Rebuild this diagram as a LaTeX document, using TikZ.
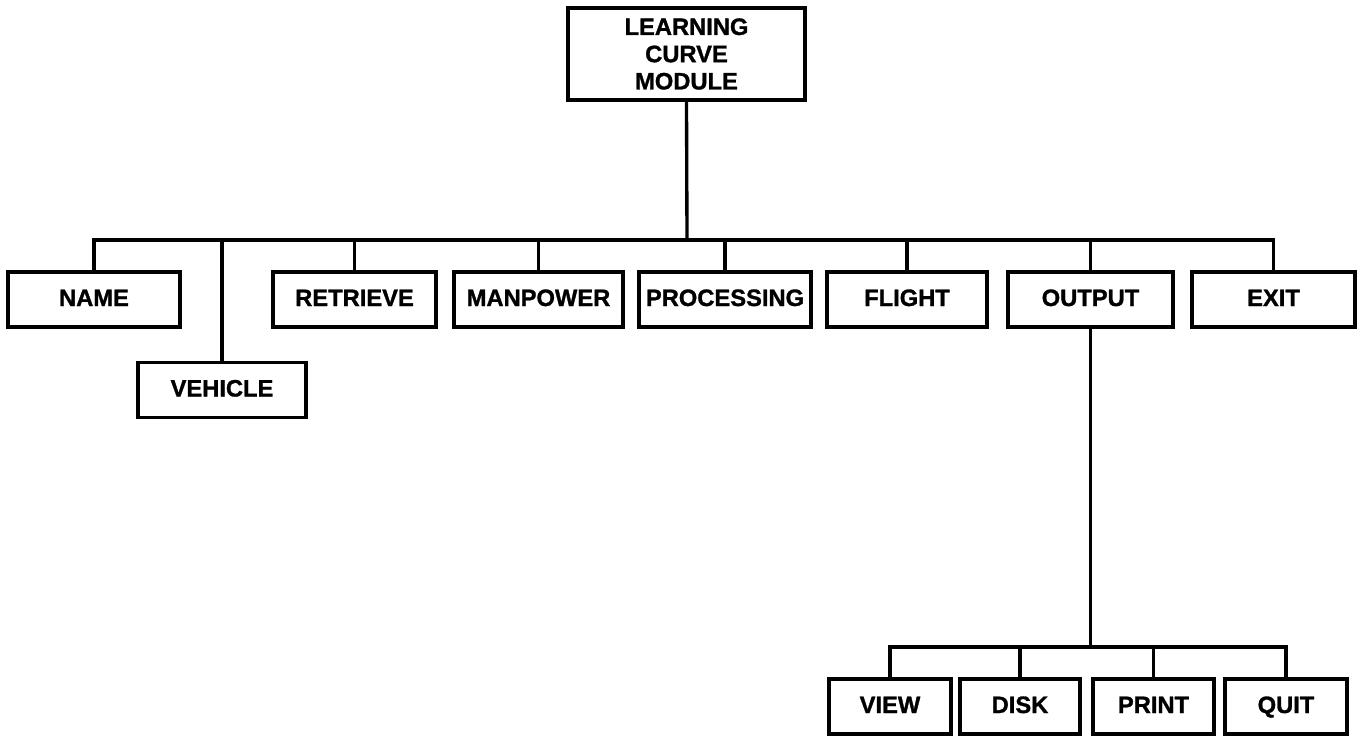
\documentclass[tikz,border=0pt]{standalone}
\usepackage{fontspec}
\setmainfont{Liberation Sans}[FakeBold=1.2]
\begin{document}
\begin{tikzpicture}[x=0.02cm,y=-0.02cm,
  box/.style={draw,line width=1.9pt,inner sep=0pt,font=\bfseries\fontsize{13.5}{15.5}\selectfont,align=center},
  leaf/.style={box,text height=1.6ex,text depth=0.2ex},
  link/.style={line width=1.9pt}]
\useasboundingbox (0,0) rectangle (1363,735);
% root
\node[box,minimum width=237*0.02cm,minimum height=92*0.02cm] (lcm) at (686.5,54) {LEARNING\\CURVE\\MODULE};
% first level
\newcommand{\lvlbox}[5]{\node[leaf,minimum width=#4*0.02cm,minimum height=55*0.02cm] (#1) at (#2,#3) {#5};}
\lvlbox{name}{94}{299.5}{172}{NAME}
\lvlbox{vehicle}{222}{390}{168}{VEHICLE}
\lvlbox{retrieve}{354.5}{299.5}{163}{RETRIEVE}
\lvlbox{manpower}{538.5}{299.5}{169}{MANPOWER}
\lvlbox{processing}{725}{299.5}{172}{PROCESSING}
\lvlbox{flight}{907}{299.5}{160}{FLIGHT}
\lvlbox{output}{1090.5}{299.5}{165}{OUTPUT}
\lvlbox{exit}{1273.5}{299.5}{163}{EXIT}
% output submenu
\lvlbox{view}{890}{706.5}{122}{VIEW}
\lvlbox{disk}{1020}{706.5}{120}{DISK}
\lvlbox{print}{1153.5}{706.5}{121}{PRINT}
\lvlbox{quit}{1286}{706.5}{122}{QUIT}
% bus rails
\coordinate (bus) at (687,240);
\coordinate (subbus) at (1090.5,647);
\draw[link] (lcm.south) -- (bus);
\foreach \n in {name,vehicle,retrieve,manpower,processing,flight,output,exit}
  \draw[link] (bus) -| (\n.north);
\draw[link] (output.south) -- (subbus);
\foreach \n in {view,disk,print,quit}
  \draw[link] (subbus) -| (\n.north);
\end{tikzpicture}
\end{document}
